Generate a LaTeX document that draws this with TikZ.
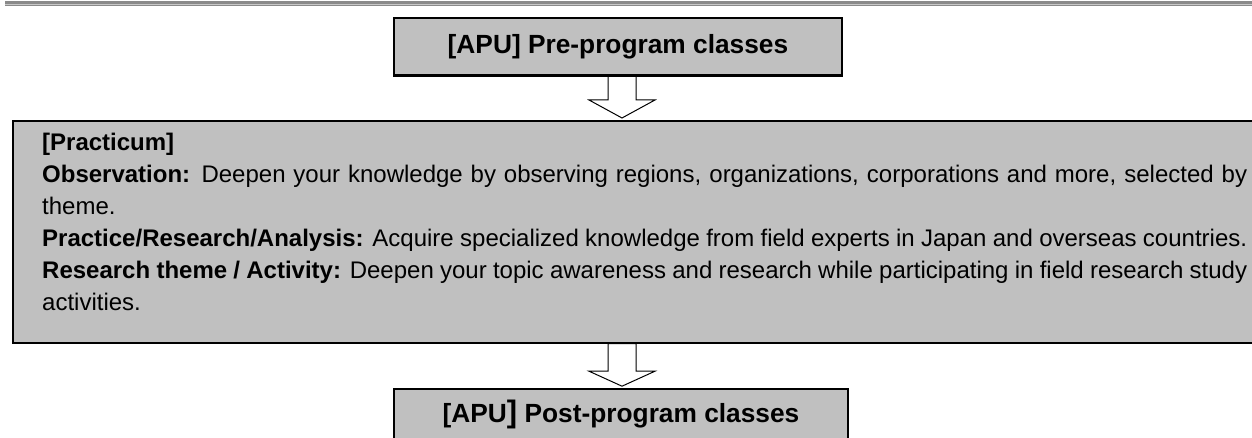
\documentclass[tikz,border=0pt]{standalone}
\usepackage{fontspec}
\setmainfont{Liberation Sans}
\usetikzlibrary{calc}
\definecolor{boxgray}{HTML}{C0C0C0}
\definecolor{rulegray}{HTML}{8A8A8A}
\definecolor{rulelight}{HTML}{C8C8C8}
\begin{document}
\begin{tikzpicture}[x=1pt,y=1pt,
  boxstyle/.style={draw=black,line width=1.6pt,fill=boxgray,inner sep=0pt},
  titlefont/.style={font=\fontsize{26.3}{30}\selectfont\bfseries},
  blockarr/.style={draw=black,line width=1pt,fill=white,line join=miter}]
\clip (0,0) rectangle (1252,438);
% top rule
\fill[rulegray] (5,432.3) rectangle (1252,437);
\fill[rulelight] (5,433.4) rectangle (1252,434.1);
% boxes (positions)
\path (618,391.5) node[boxstyle,minimum width=448pt,minimum height=57pt] (pre) {};
\path (12,318) node[boxstyle,anchor=north west,minimum width=1280pt,minimum height=222pt] (prac) {};
\path (621,21) node[boxstyle,minimum width=454pt,minimum height=56pt] (post) {};
% arrows
\coordinate (a1s) at ($(pre.south)+(4,0)$);
\path (a1s |- prac.north) ++(0,2) coordinate (a1e);
\coordinate (a2s) at (a1s |- prac.south);
\path (a2s |- post.north) ++(0,2) coordinate (a2e);
\draw[blockarr] ($(a1s)+(-14,0)$) -- ($(a1e)+(-14,18)$) -- ($(a1e)+(-33,18)$) -- (a1e)
  -- ($(a1e)+(33,18)$) -- ($(a1e)+(14,18)$) -- ($(a1s)+(14,0)$) -- cycle;
\draw[blockarr] ($(a2s)+(-14,0)$) -- ($(a2e)+(-14,15)$) -- ($(a2e)+(-33,15)$) -- (a2e)
  -- ($(a2e)+(33,15)$) -- ($(a2e)+(14,15)$) -- ($(a2s)+(14,0)$) -- cycle;
% redraw box borders over arrow ends
\draw[line width=1.6pt] (pre.south west) -- (pre.south east);
\draw[line width=1.6pt] (prac.south west) -- (prac.south east);
% texts
\node[titlefont,inner sep=0pt] (pretitle) at (pre.center) {[APU] Pre-program classes};
\node[titlefont,inner sep=0pt,anchor=base] (posttitle) at (621,15) {[APU{\fontsize{31}{31}\selectfont]} Post-program classes};
\node[anchor=north west,inner sep=0pt,text width=1205pt,align=justify,
  font=\fontsize{24}{32}\selectfont] (practext) at (42,308)
  {\parindent=0pt\hyphenpenalty=10000\exhyphenpenalty=10000
  \rule{0pt}{20pt}\textbf{[Practicum]}\par
  \textbf{Observation:} Deepen your knowledge by observing regions, organizations, corporations and more, selected by theme.\par
  \textbf{Practice/Research/Analysis:} Acquire specialized knowledge from field experts in Japan and overseas countries.\par
  \textbf{Research theme / Activity:} Deepen your topic awareness and research while participating in field research study activities.\par};
\end{tikzpicture}
\end{document}
